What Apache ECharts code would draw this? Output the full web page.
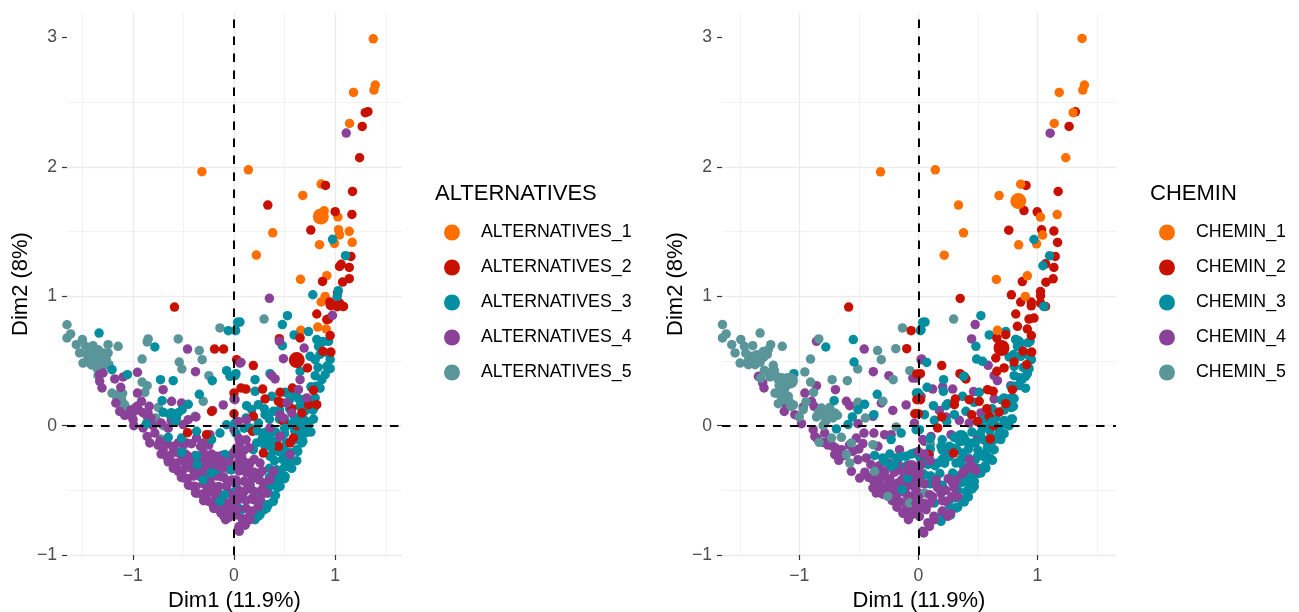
<!DOCTYPE html>
<html><head><meta charset="utf-8">
<style>html,body{margin:0;padding:0;background:#fff}#c{width:1299px;height:612px}</style>
<script src="https://cdn.jsdelivr.net/npm/echarts@6/dist/echarts.min.js"></script>
</head><body><div id="c"></div>
<script>
const colours = ['#FF6F00','#C71000','#008EA0','#8A4198','#5A9599'];
const altNames = ['ALTERNATIVES_1','ALTERNATIVES_2','ALTERNATIVES_3','ALTERNATIVES_4','ALTERNATIVES_5'];
const cheNames = ['CHEMIN_1','CHEMIN_2','CHEMIN_3','CHEMIN_4','CHEMIN_5'];
const xTitle = 'Dim1 (11.9%)', yTitle = 'Dim2 (8%)';
const xMajor = [-1,0,1], xMinor = [-1.5,-.5,.5,1.5];

const alt1 = [[1.376,2.99],[1.396,2.633],[1.383,2.594],[1.181,2.576],[1.142,2.336],[-.317,1.963],[.142,1.978],[.861,1.868],[.68,1.78],[.891,1.661],[1.027,1.613],[.383,1.491],[1.033,1.515],[1.043,1.474],[1.139,1.502],[1.168,1.417],[.845,1.399],[.993,1.409],[.221,1.319],[.657,1.131],[.917,1.159],[.901,.999],[.861,.956],[.828,.762],[.911,.747],[.66,.737]];
const alt2 = [[1.323,2.427],[1.297,2.419],[1.267,2.313],[1.241,2.071],[.904,1.857],[1.171,1.811],[.334,1.705],[1,1.654],[1.165,1.633],[.759,1.512],[1.155,1.308],[1.059,1.247],[1.043,1.231],[1.139,1.223],[1.139,1.136],[1.073,1.11],[.875,1.115],[1.023,1.025],[.947,.956],[1.043,.948],[.957,.927],[1.02,.92],[1.076,.922],[-.588,.917],[-.192,.592],[-.103,.592],[.026,.51],[0,.252],[0,.092],[-.459,-.054],[-.271,-.07],[-.221,.11],[.818,.863],[.934,.824],[.917,.82],[.448,.672],[.653,.678],[.95,.696],[.726,.446],[.878,.575],[.957,.569],[.785,.273],[.191,.464],[.069,.291],[.118,.283],[.283,.283],[.307,.206],[.455,.258],[.439,.188],[.471,.175],[.577,.291],[.571,.131],[.67,.098],[.736,.162],[.818,.162],[.191,.072],[.184,-.044],[.488,.033],[.62,0],[.587,-.096],[.554,-.134],[.439,-.16],[.29,-.212],[1.016,.935],[1.082,.922],[.95,.935]];
const alt3 = [[.779,1.012],[-1.333,.716],[-.782,.608],[-1.205,.433],[-1.053,.394],[-.726,.355],[-.601,.348],[-.215,.348],[-.073,.425],[-.056,.734],[.036,.799],[-.04,.381],[.01,.386],[-.343,.242],[-.71,.193],[-.452,.165],[-.512,.123],[-.7,.103],[-.634,.085],[-.568,.059],[-.62,.1],[-.55,.1],[-.58,.03],[-.865,.015],[-.37,-.044],[-.65,-.09],[-.518,-.096],[-.221,-.108],[-.139,-.057],[-.073,.007],[.01,.02],[-.518,-.206],[-.37,-.232],[-.363,-.302],[-.228,-.366],[-.09,-.224],[-.007,-.212],[-.304,-.418],[-.09,-.534],[-.139,-.585],[.026,-.495],[-.172,-.34],[.043,-.637],[-.023,-.34],[.528,.85],[.478,.781],[.594,.701],[.736,.727],[.478,.618],[.059,.801],[.016,.734],[.818,.665],[.934,.652],[.835,.613],[.752,.536],[.802,.51],[.95,.51],[.653,.42],[.917,.459],[.901,.394],[.802,.386],[.868,.355],[.812,.304],[.208,.355],[.208,.265],[.356,.402],[.019,.402],[.125,.154],[.241,.162],[.175,.124],[.373,.227],[.637,.209],[.505,.258],[.587,.258],[.802,.214],[.795,.144],[.389,.111],[.307,.085],[.241,.02],[.158,-.018],[.785,.051],[.736,.008],[.703,-.057],[.554,.008],[.29,-.057],[.307,-.16],[.389,-.199],[.356,-.237],[.67,-.134],[.62,-.186],[.62,-.271],[.538,-.315],[.455,-.366],[.455,-.469],[.389,-.585],[.323,-.637],[.257,-.688],[.208,-.727],[.092,-.34],[.191,-.186],[.257,-.366],[.505,-.237],[.158,-.456],[.076,-.65],[.224,-.134],[.719,-.031],[.439,-.431],[.505,-.392],
[.41,-.05],[.5,-.06],[.6,-.04],[.65,-.06],[.76,-.05],[.42,-.12],[.52,-.13],[.6,-.11],[.68,-.12],[.44,-.2],[.5,-.19],[.56,-.21],[.63,-.2],[.4,-.27],[.48,-.26],[.55,-.28],[.35,-.33],[.42,-.34],[.5,-.32],[.57,-.33],[.35,-.4],[.42,-.39],[.5,-.41],[.3,-.47],[.37,-.46],[.43,-.48],[.27,-.53],[.34,-.52],[.41,-.54],[.28,-.6],[.34,-.61],[.22,-.66],[.3,-.65],[.17,-.71],[.24,-.7],[.5,.05],[.6,.06],[.7,.04],[.45,.12],[.55,.13],[.7,.11],[.78,.12],[.55,.2],[.68,.2],[.78,.19],[.76,.3],[.85,.29],[.83,.45],[.95,.44],[.85,.55],[.93,.56],[.88,.65],[.6,.25],[.45,.05],[.35,.05],[.3,.13],[.65,.15],[.72,.18],[.66,.05],[.1,-.02],[.02,-.06],[.12,.06]];
const alt3Top = [[.974,1.44],[1.102,1.314],[1.03,1.043],[1.02,1],[.32,-.05],[.28,-.1],[.36,-.16],[.23,-.04],[.5,-.02],[.6,.02],[.68,0]];
const alt4 = [[-1.327,.394],[-1.294,.407],[-1.327,.343],[-1.304,.291],[-1.178,.361],[-1.096,.376],[-1.119,.296],[-.459,.592],[-.954,.412],[-.38,.417],[-.7,.278],[-.954,.252],[-1.168,.175],[-1.129,.11],[-1.046,.085],[-.997,.046],[-.99,0],[-.957,.149],[-.914,.188],[-.838,.149],[-.858,.072],[-.617,.188],[-.518,.175],[-.211,.118],[-.106,.16],[-.452,.046],[-.502,.008],[-.376,.067],[0,.206],[.059,.484],[0,-.031],[-.898,-.018],[-.858,-.083],[-.832,-.134],[-.782,-.057],[-.733,-.121],[-.7,-.186],[-.667,-.237],[-.601,-.173],[-.551,-.134],[-.469,-.134],[-.568,-.289],[-.551,-.353],[-.492,-.405],[-.452,-.237],[-.37,-.096],[-.304,-.134],[-.238,-.07],[-.403,-.469],[-.37,-.521],[-.271,-.572],[-.205,-.611],[-.129,-.676],[-.083,-.727],[-.271,-.289],[-.172,-.289],[-.238,-.444],[-.139,-.392],[-.073,-.469],[-.04,-.676],[-.007,-.572],[.043,-.804],[-.403,-.34],[-.337,-.34],[-.469,-.289],[-.304,-.237],[-.172,-.237],[-.155,-.521],[-.271,-.508],[-.172,-.495],[-.04,-.237],[0,-.315],[-.205,-.379],[-.073,-.598],[-.337,-.392],[-.238,-.34],[.026,-.212],
[-1.08,.08],[-1.02,.12],[-1.0,.1],[-.94,.12],[-.9,.1],[-.85,.1],[-.82,.06],[-.8,0],[-.72,.02],[-.65,-.02],[-.62,.04],
[-.75,-.15],[-.66,-.14],[-.6,-.16],[-.5,-.15],[-.42,-.14],[-.33,-.16],[-.25,-.15],[-.72,-.22],[-.63,-.23],[-.55,-.21],[-.48,-.22],[-.38,-.23],[-.3,-.21],[-.22,-.22],[-.12,-.23],[-.65,-.28],[-.6,-.29],[-.52,-.27],[-.42,-.28],[-.33,-.29],[-.25,-.27],[-.18,-.28],[-.1,-.29],[-.05,-.27],[-.6,-.33],[-.5,-.34],[-.45,-.32],[-.38,-.33],[-.3,-.34],[-.22,-.32],[-.12,-.33],[-.03,-.34],[-.52,-.4],[-.46,-.41],[-.4,-.39],[-.3,-.4],[-.25,-.41],[-.18,-.39],[-.1,-.4],[-.02,-.42],[-.45,-.46],[-.38,-.47],[-.3,-.45],[-.22,-.46],[-.15,-.47],[-.07,-.46],[.02,-.45],[-.38,-.52],[-.32,-.53],[-.25,-.51],[-.2,-.52],[-.12,-.54],[-.03,-.52],[.03,-.53],[-.3,-.58],[-.24,-.59],[-.18,-.57],[-.12,-.58],[-.05,-.6],[.02,-.58],[-.2,-.64],[-.15,-.65],[-.09,-.63],[-.02,-.64],[.04,-.66],[-.1,-.7],[-.05,-.71],[.02,-.69]];
const alt4Top = [[1.109,2.262],[.35,.984],[.069,.489],[.488,.518],[.448,.652],[.693,.6],[.973,.853],[.373,.386],[.406,.361],[.653,.355],[.455,.085],[.521,.175],[.637,.278],[.719,.214],[.125,.046],[.043,.033],[.01,.201],[.356,-.018],[.488,.059],[.571,.098],[.059,-.134],[-.007,-.212],[.076,-.237],[.158,-.289],[.257,-.289],[.455,-.083],[.554,-.224],[.389,-.353],[.29,-.444],[.224,-.392],[.158,-.469],[.092,-.521],[.24,-.624],[.191,-.572],[-.007,-.624],[-.007,-.547],[.158,-.727],[.109,-.766],[.052,-.817],[.323,-.521],[.356,-.418],[.059,-.34],[.125,-.366],
[.05,-.1],[.12,-.11],[.02,-.18],[.1,-.19],[.15,-.17],[.05,-.27],[.1,-.28],[.2,-.26],[.05,-.35],[.15,-.34],[.2,-.36],[.28,-.35],[.02,-.42],[.1,-.43],[.18,-.41],[.25,-.42],[.05,-.5],[.13,-.49],[.2,-.51],[.27,-.5],[.05,-.57],[.12,-.58],[.18,-.56],[.26,-.57],[.03,-.65],[.12,-.64],[.18,-.66],[.08,-.72],[.14,-.71],[.05,-.78],[.11,-.77]];
const alt5 = [[-1.65,.78],[-1.614,.709],[-1.65,.678],[-1.558,.626],[-1.498,.665],[-1.466,.613],[-1.393,.618],[-1.244,.626],[-1.145,.613],[-1.525,.562],[-1.492,.484],[-1.442,.523],[-1.41,.471],[-1.376,.549],[-1.343,.587],[-1.327,.523],[-1.294,.562],[-1.261,.51],[-1.36,.471],[-1.31,.471],[-1.244,.562],[-1.235,.471],[-1.393,.51],[-1.343,.386],[-.848,.67],[-.858,.647],[-.908,.515],[-.551,.67],[-.343,.58],[-.314,.51],[-.541,.492],[-.515,.438],[-.248,.386],[-.139,.755],[-.908,.337],[-.858,.309],[-.881,.257],[-1.205,.252],[-1.145,.239],[-1.112,.214],[-1.096,.175],[-1.079,.144],[-.304,.188],[-.386,.072],[-.749,.141],[-.773,.059],[-.7,0],[-.726,-.103],[-.063,-.335],[-.98,.136],[.297,.824],
[-1.45,.55],[-1.4,.56],[-1.38,.5],[-1.34,.48],[-1.32,.55],[-1.3,.5],[-1.28,.53],[-1.27,.47],[-1.35,.44],[-1.4,.47],[-1.16,.22],[-1.12,.19],[-1.1,.25],[-1.14,.17],[-1.08,.16]];
const altCentres = [[[.858,1.617]],[[.62,.507]],[[.32,-.11]],[[-.14,-.29]],[[-1.34,.515]]];

const che1 = [[1.375,2.993],[1.395,2.633],[1.381,2.594],[1.183,2.576],[1.3,2.419],[1.141,2.336],[1.238,2.071],[-.318,1.962],[.142,1.978],[.859,1.867],[.678,1.779],[.337,1.705],[1.166,1.632],[1.026,1.612],[.379,1.491],[1.043,1.473],[.993,1.406],[.842,1.398],[.217,1.318],[.655,1.13],[.915,1.158],[.898,.999],[.664,.737]];
const che2 = [[1.319,2.426],[1.266,2.313],[.904,1.857],[1.174,1.81],[.887,1.663],[.998,1.653],[1.035,1.514],[1.138,1.504],[.759,1.511],[1.169,1.416],[1.149,1.308],[1.068,1.251],[1.138,1.223],[1.132,1.135],[1.071,1.109],[.873,1.114],[1.026,1.037],[1.026,1.004],[.781,1.011],[.351,.983],[.859,.955],[.948,.955],[.948,.926],[1.026,.947],[1.068,.921],[.818,.863],[.929,.824],[.971,.832],[.832,.768],[.915,.747],[.949,.696],[.659,.678],[.734,.703],[.879,.575],[.952,.569],[.65,.523],[.804,.492],[.91,.471],[.72,.446],[.659,.42],[.79,.278],[.196,.464],[.017,.402],[.349,.402],[.399,.361],[.017,.201],[.31,.206],[.302,.162],[.427,.201],[.581,.278],[.628,.265],[.511,.188],[.575,.131],[.678,.105],[.734,.17],[.595,.072],[.447,.085],[0,.092],[.196,.067],[.162,-.018],[.631,0],[.497,.033],[.603,-.103],[.296,-.212],[.084,-.224],[-.586,.917],[-.098,.595],[-.061,.734],[-.013,.4],[-.013,.201],[-.03,.092],[.05,-.224]];
const che3 = [[-.778,.608],[-.547,.665],[-.541,.492],[-1.046,.402],[-.346,.242],[-.708,.193],[-.452,.165],[-.508,.123],[-.555,.067],[-.591,.008],[-.689,-.026],[-.374,.085],[.022,.742],[.036,.799],[-.017,.252],[-.229,-.108],[-.145,-.057],[-.019,-.031],[-.368,-.23],[-.284,-.276],[-.187,-.25],[-.103,-.237],[-.033,-.212],[-.089,-.405],[-.137,-.495],[.022,-.263],[-.229,-.315],[.525,.85],[.056,.801],[.017,.734],[.595,.701],[.734,.727],[.483,.613],[.489,.515],[.07,.489],[.539,.497],[.818,.665],[.846,.652],[.938,.652],[.832,.613],[.762,.531],[.86,.536],[.949,.51],[.804,.459],[.804,.386],[.915,.402],[.874,.361],[.812,.304],[.385,.381],[.212,.355],[.21,.265],[.073,.296],[0,.252],[.126,.154],[.246,.17],[.232,.154],[.371,.227],[.469,.18],[.511,.258],[.72,.214],[.804,.209],[.798,.149],[.302,.085],[.399,.111],[.051,.085],[.134,.041],[.238,.033],[.009,-.031],[.79,.051],[.762,0],[.72,-.062],[.692,-.108],[.636,-.186],[.622,-.268],[.567,-.328],[.469,-.469],[.385,-.59],[.316,-.637],[.19,-.74],[.497,.033],[.539,-.018],[.26,-.16],[.371,-.212],[.316,-.289],[.162,-.289],[.19,-.16],[.037,-.289],[.581,-.134],[.497,-.237],[.413,-.418],[.134,-.598],[.288,-.366],[.106,-.392],[.009,-.237],[.441,-.315],[.525,-.366],[.455,-.134],[.358,-.263],[.636,-.108],[.567,-.212],[.664,-.083],
[.55,.05],[.65,.06],[.72,.04],[.78,.05],[.6,0],[.68,-.01],[.74,.01],[.45,-.05],[.52,-.06],[.6,-.04],[.68,-.05],[.4,-.12],[.48,-.13],[.55,-.11],[.62,-.12],[.42,-.18],[.5,-.19],[.58,-.17],[.42,-.25],[.48,-.26],[.55,-.24],[.6,-.25],[.38,-.32],[.5,-.33],[.56,-.31],[.36,-.38],[.44,-.39],[.5,-.37],[.36,-.44],[.42,-.45],[.47,-.43],[.33,-.5],[.4,-.51],[.45,-.49],[.3,-.56],[.36,-.57],[.42,-.55],[.26,-.62],[.33,-.63],[.2,-.68],[.27,-.69],[.62,.13],[.72,.12],[.78,.14],[.7,.2],[.77,.21],[.78,.3],[.85,.31],[.9,.29],[.85,.37],[.9,.38],[.88,.45],[.93,.44],[.8,.55],[.9,.56],[.93,.54],[.85,.63],[.92,.64],
[.1,-.1],[.2,-.11],[.3,-.09],[.38,-.1],[.1,-.18],[.2,-.19],[.28,-.17],[.32,-.18],[.08,-.25],[.2,-.26],[.26,-.24],[.08,-.3],[.14,-.31],[.22,-.29],[.05,-.38],[.1,-.39],[.18,-.37],[.3,-.38],[.1,-.45],[.2,-.46],[-.3,-.25],[-.24,-.22],[-.15,-.24],[-.06,-.22],[-.2,-.3],[-.1,-.31]];
const che3Top = [[.971,1.439],[1.102,1.313],[1.046,1.236],[1.054,.921],[1.055,.922],[.818,.665],[.846,.652],[.38,.38],[.62,.03]];
const che4 = [[-.856,.652],[-.455,.592],[-.379,.417],[-.248,.386],[-.047,.368],[-.019,.368],[-1.344,.381],[-1.308,.33],[-1.297,.291],[-1.121,.296],[-.954,.252],[-.856,.309],[-.697,.278],[-1.121,.175],[-1.127,.11],[-1.038,.085],[-.982,.015],[-.968,.144],[-.898,.188],[-.876,.149],[-.605,.188],[-.577,.154],[-.312,.175],[-.215,.118],[-.103,.16],[-.382,.072],[-.508,.015],[.022,.51],[.022,.227],[-.033,.02],[-.884,-.031],[-.87,-.083],[-.787,-.057],[-.745,-.108],[-.717,-.16],[-.703,-.224],[-.669,-.268],[-.647,-.186],[-.522,-.096],[-.466,-.139],[-.457,-.057],[-.374,-.057],[-.284,-.07],[-.229,-.07],[-.34,-.16],[-.508,-.263],[-.438,-.25],[-.563,-.353],[-.494,-.405],[-.418,-.4],[-.382,-.482],[-.354,-.521],[-.229,-.495],[-.284,-.392],[-.187,-.572],[-.131,-.676],[-.084,-.727],[-.173,-.444],[-.033,-.469],[.009,-.701],[.036,-.817],[-.159,-.34],[-.257,-.456],[-.34,-.34],[-.033,-.392],[.009,-.34],[.036,-.108],[-.159,-.186],[-.033,-.624],[-.117,-.508],[.477,.781],[.447,.67],[.586,.466],[.028,.515],[.385,.376],[.664,.348],[.636,.386],[.12,.283],[.204,.299],[.288,.283],[.463,.263],[.776,.309],[.636,.206],[.176,.118],[.232,.067],[.525,.098],[.344,.041],[.427,.02],[.106,-.083],[.051,-.121],[.274,-.07],[.497,-.083],[.246,-.224],[.092,-.224],
[-.85,-.1],[-.8,-.13],[-.76,-.15],[-.7,-.17],[-.68,-.21],[-.62,-.23],[-.58,-.15],[-.55,-.2],[-.5,-.18],[-.4,-.3],[-.33,-.31],[-.25,-.29],[-.17,-.3],[-.08,-.31],[-.45,-.36],[-.35,-.37],[-.28,-.35],[-.2,-.36],[-.12,-.37],[-.03,-.35],[-.38,-.42],[-.33,-.43],[-.24,-.41],[-.14,-.42],[-.06,-.43],[.01,-.41],[-.32,-.47],[-.26,-.48],[-.2,-.46],[-.1,-.47],[-.03,-.48],[-.3,-.53],[-.24,-.54],[-.17,-.52],[-.1,-.53],[-.04,-.54],[0,-.52],[-.22,-.58],[-.15,-.59],[-.08,-.57],[-.02,-.58],[-.18,-.63],[-.1,-.64],[-.06,-.62],[0,-.63],[-.12,-.68],[-.06,-.69],[-.02,-.67]];
const che4Top = [[1.107,2.261],[.427,-.263],[.385,-.353],[.483,-.346],[.148,-.456],[.288,-.444],[.33,-.547],[.232,-.585],[.246,-.701],[.134,-.727],[.093,-.779],[.045,-.83],[-.005,-.65],[.065,-.65],[-.019,-.469],[.093,-.534],[.19,-.521],[.009,-.366],[.12,-.55],[.2,-.58],[.28,-.55],[.23,-.5],[.3,-.48],[.16,-.48],[.1,-.6],[.05,-.6],[0,-.55],[-.02,-.6],[.2,-.66],[.27,-.68],[.13,-.7],[.08,-.75],[.42,-.33],[.46,-.32],[.37,-.37],[.32,-.42],[.25,-.41],[.15,-.42],[.05,-.45],[0,-.42],[.02,-.3],[.05,-.22],[0,-.2],[.1,-.27]];
const che5 = [[-1.646,.781],[-1.615,.709],[-1.646,.678],[-1.568,.626],[-1.492,.665],[-1.33,.716],[-1.462,.613],[-1.392,.618],[-1.241,.626],[-1.144,.613],[-1.54,.562],[-1.498,.484],[-1.428,.471],[-1.4,.536],[-1.358,.549],[-1.303,.574],[-1.261,.587],[-1.372,.471],[-1.414,.51],[-1.344,.51],[-.837,.67],[-.906,.515],[-.343,.58],[-.312,.51],[-.19,.595],[-.134,.755],[-.51,.438],[-.597,.348],[-.725,.355],[-.954,.415],[-.906,.337],[-.881,.257],[-1.219,.466],[-1.21,.428],[-1.294,.428],[-1.325,.368],[-1.247,.376],[-1.177,.355],[-1.107,.368],[-1.135,.317],[-1.205,.252],[-1.149,.252],[-1.093,.227],[-1.177,.17],[-1.071,.149],[-.945,.183],[-.968,.123],[-1.001,.067],[-.814,.136],[-.856,.067],[-.745,.141],[-.703,.098],[-.773,.051],[-.508,.18],[-.446,.059],[-.298,.188],[-.212,.355],[-.072,.425],[-.187,-.011],[-.647,-.09],[-.834,-.129],[-.563,-.134],[-.577,-.289],[-.368,-.353],[-.382,-.147],[-.257,-.547],[-.075,-.598],[-.605,-.224],[-.73,-.096],[.296,.824],[.101,-.142],[.051,-.521],[.037,-.366],
[-1.45,.56],[-1.43,.5],[-1.37,.53],[-1.33,.49],[-1.38,.5],[-1.3,.53],[-1.27,.55],[-1.26,.41],[-1.2,.39],[-1.15,.37],[-1.12,.33],[-1.17,.31],[-1.18,.25],[-1.13,.27],[-1.12,.2],[-1.08,.18],[-1.15,.22],[-1.05,.16],[-.84,.1],[-.8,.08],[-.76,.1],[-.72,.06],[-.68,.08],[-.78,.03],[-.8,0]];
const cheCentres = [[[.839,1.736]],[[.698,.6]],[[.358,-.096]],[[-.061,-.328]],[[-1.079,.348]]];

const altLayers = [[4,alt5],[0,alt1],[3,alt4],[2,alt3],[1,alt2],[2,alt3Top],[3,alt4Top]];
const cheLayers = [[3,che4],[4,che5],[2,che3],[1,che2],[0,che1],[2,che3Top],[3,che4Top]];

const fontFamily = '"Liberation Sans", Arial, sans-serif';
const minus = v => String(v).replace('-', '\u2212');
function xAxis(i){ return {
  gridIndex:i, type:'value', min:-1.65, max:1.66,
  name:xTitle, nameLocation:'middle', nameGap:34,
  nameTextStyle:{fontFamily, fontSize:22, color:'#000'},
  axisLine:{show:false,onZero:false},
  axisTick:{show:true,length:5,customValues:xMajor,lineStyle:{color:'#333',width:1.2}},
  axisLabel:{fontFamily,fontSize:17.6,color:'#4D4D4D',margin:12,customValues:xMajor,formatter:minus},
  splitLine:{show:false}
};}
function yAxis(i){ return {
  gridIndex:i, type:'value', min:-1, max:3.19, interval:1,
  name:yTitle, nameLocation:'middle', nameGap:35,
  nameTextStyle:{fontFamily, fontSize:22, color:'#000'},
  axisLine:{show:false,onZero:false},
  axisTick:{show:true,length:5,customValues:[-1,0,1,2,3],lineStyle:{color:'#333',width:1.2}},
  axisLabel:{fontFamily,fontSize:17.6,color:'#4D4D4D',margin:10,showMaxLabel:false,padding:[3,0,0,0],
    formatter:v=>Number.isInteger(v)?minus(v):''},
  splitLine:{show:true,showMaxLine:false,lineStyle:{color:'#EBEBEB',width:1.4}},
  minorTick:{show:false,splitNumber:2},
  minorSplitLine:{show:true,lineStyle:{color:'#EFEFEF',width:.8}}
};}
function panelSeries(i, names, layers, centres){
  const base = {type:'scatter',xAxisIndex:i,yAxisIndex:i,silent:true};
  const out = [{...base,data:[],z:1,markLine:{z:1,silent:true,symbol:'none',animation:false,label:{show:false},
      data:[
        ...xMajor.map(v=>({xAxis:v,lineStyle:{color:'#EBEBEB',width:1.4,type:'solid'}})),
        ...xMinor.map(v=>({xAxis:v,lineStyle:{color:'#EFEFEF',width:.8,type:'solid'}}))
      ]}}];
  layers.forEach(([g,pts])=>{
    out.push({...base,name:names[g],data:pts,symbolSize:9.5,itemStyle:{color:colours[g],opacity:1},z:2});
  });
  centres.forEach((pts,g)=>{
    out.push({...base,name:names[g],data:pts,symbolSize:16,itemStyle:{color:colours[g],opacity:1},z:2});
  });
  out.push({...base,data:[],z:5,markLine:{z:5,silent:true,symbol:'none',animation:false,label:{show:false},
      lineStyle:{color:'#000',type:[8.5,8.5],width:2},data:[{xAxis:0},{yAxis:0}]}});
  return out;
}
function legend(left, names){ return {
  left, top:218.5, orient:'vertical', icon:'circle', itemWidth:16, itemHeight:16, itemGap:17,
  data:names, selectedMode:false,
  textStyle:{fontFamily,fontSize:17.8,color:'#000',padding:[0,0,0,16]}
};}
const chart = echarts.init(document.getElementById('c'),null,{renderer:'canvas'});
chart.setOption({
  animation:false, backgroundColor:'#fff',
  grid:[{left:67,width:335,top:13,height:542,outerBoundsMode:'none'},{left:722,width:394,top:13,height:542,outerBoundsMode:'none'}],
  xAxis:[xAxis(0),xAxis(1)], yAxis:[yAxis(0),yAxis(1)],
  legend:[legend(439,altNames),legend(1154,cheNames)],
  title:[
    {text:'ALTERNATIVES',left:435,top:183,padding:0,textStyle:{fontFamily,fontSize:22,fontWeight:'normal',color:'#000'}},
    {text:'CHEMIN',left:1150,top:183,padding:0,textStyle:{fontFamily,fontSize:22,fontWeight:'normal',color:'#000'}}
  ],
  series:[...panelSeries(0,altNames,altLayers,altCentres),...panelSeries(1,cheNames,cheLayers,cheCentres)]
});
</script></body></html>
